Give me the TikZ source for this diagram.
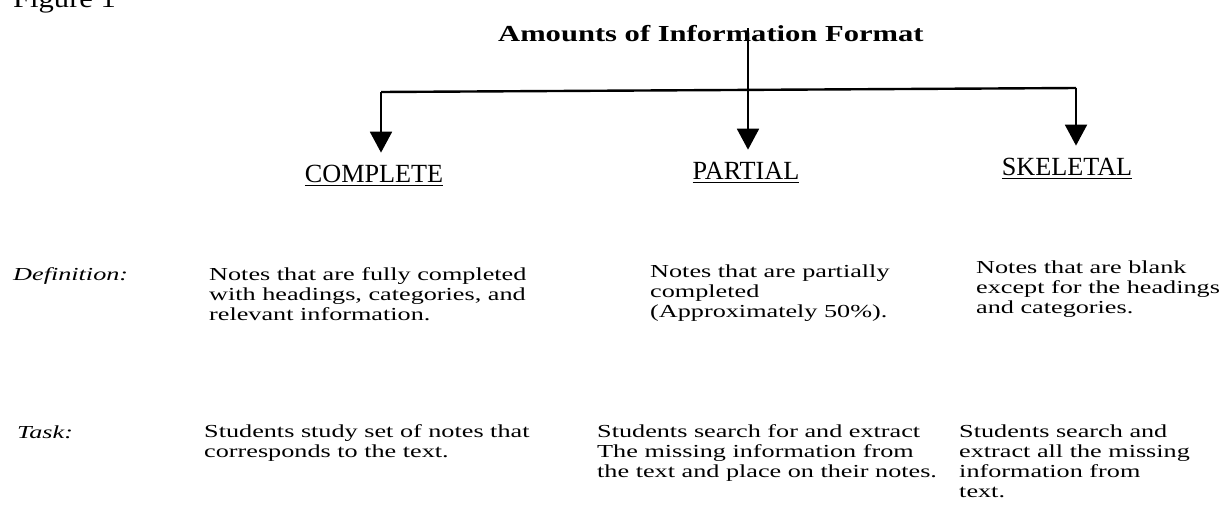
\documentclass[tikz,border=0pt]{standalone}
\usepackage{fontspec}
\setmainfont{Liberation Serif}
\usetikzlibrary{arrows.meta}
% stacked lines, aligned on the baseline of the first one
\newcommand{\notelines}[1]{\begin{tabular}[t]{@{}l@{}}#1\end{tabular}}

\begin{document}
\begin{tikzpicture}[x=0.458pt,y=-0.458pt,line width=1.1pt,
  >={Triangle[length=9.6pt,width=10pt]},
  heading/.style={font=\fontsize{12}{14}\selectfont,anchor=base,inner sep=0pt,outer sep=5.5pt},
  rowname/.style={font=\fontsize{12}{13}\selectfont\itshape,anchor=base west,inner sep=0pt,yscale=0.7},
  notes/.style={font=\fontsize{12}{13.1}\selectfont,anchor=base west,inner sep=0pt,yscale=0.7}]
\useasboundingbox (0,0) rectangle (1231,530);

\node[anchor=base west,inner sep=0pt,font=\fontsize{14}{16}\selectfont,yscale=0.85] (fig) at (12,7) {Figure 1};
\node[anchor=base west,inner sep=0pt,font=\fontsize{14}{16}\selectfont\bfseries,yscale=0.75] (title) at (497,41) {Amounts of Information Format};

% the three formats
\node[heading] (complete) at (374,182) {\underline{COMPLETE}};
\node[heading] (partial) at (746,179) {\underline{PARTIAL}};
\node[heading] (skeletal) at (1067,175) {\underline{SKELETAL}};

\coordinate (stem) at (748,28);
\coordinate (fork) at (748,90);
\coordinate (lft) at (381,92);
\coordinate (rgt) at (1076,88);
\draw (stem)--(fork);
\draw (lft)--(rgt);
\draw[->] (lft)--(lft |- complete.north);
\draw[->] (fork)--(fork |- partial.north);
\draw[->] (rgt)--(rgt |- skeletal.north);

% definitions
\node[rowname] (defn) at (12,280) {Definition:};
\node[notes] (cdef) at (208,280) {\notelines{Notes that are fully completed\\with headings, categories, and\\relevant information.}};
\node[notes] (pdef) at (649,277) {\notelines{Notes that are partially\\completed\\(Approximately 50\%).}};
\node[notes] (sdef) at (975,273) {\notelines{Notes that are blank\\except for the headings\\and categories.}};

% tasks
\node[rowname] (task) at (16,438) {Task:};
\node[notes] (ctask) at (203,437) {\notelines{Students study set of notes that\\corresponds to the text.}};
\node[notes] (ptask) at (596,437) {\notelines{Students search for and extract\\The missing information from\\the text and place on their notes.}};
\node[notes] (stask) at (958,437) {\notelines{Students search and\\extract all the missing\\information from\\text.}};
\end{tikzpicture}
\end{document}
